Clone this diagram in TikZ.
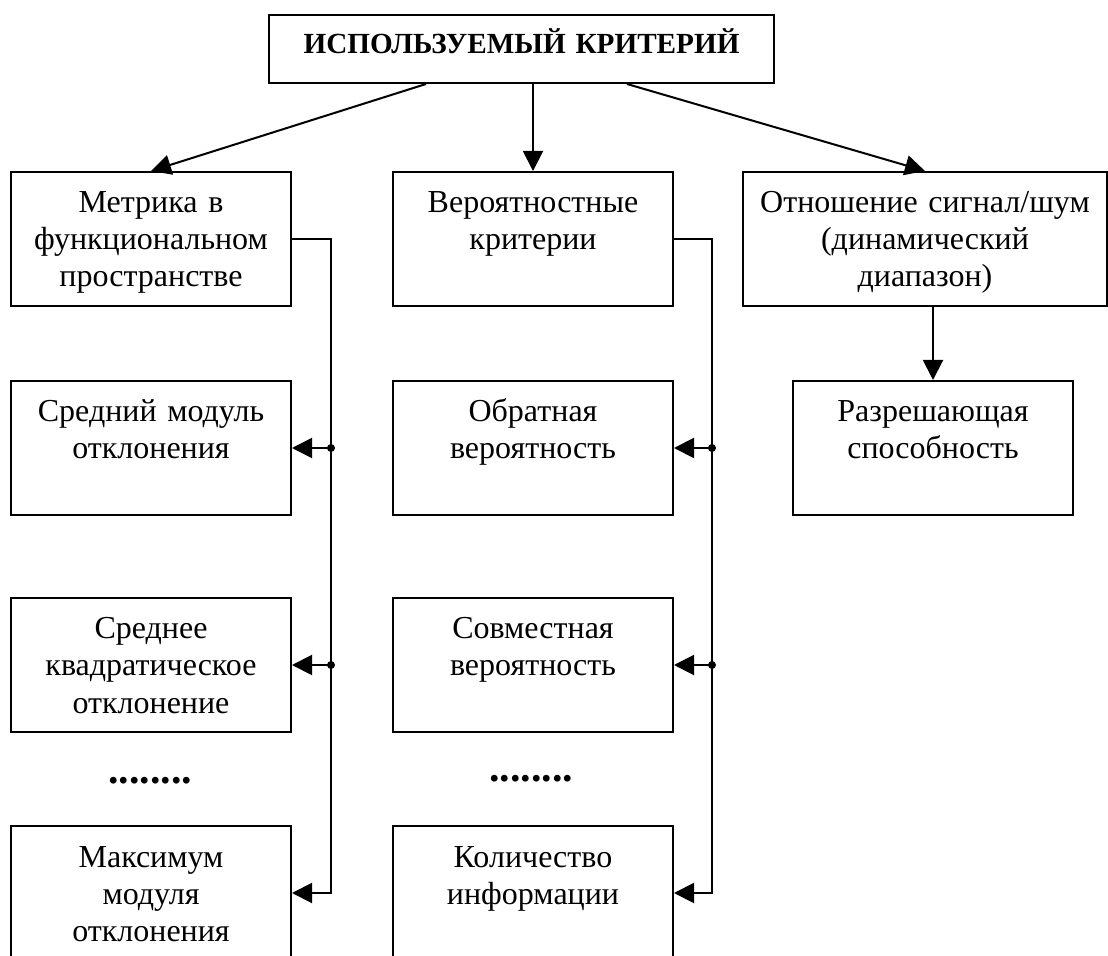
\documentclass[tikz,border=0pt]{standalone}
\usepackage{fontspec}
\setmainfont{Liberation Serif}
\usetikzlibrary{arrows.meta}

\begin{document}
\begin{tikzpicture}[x=0.5pt, y=-0.5pt,
    box/.style={draw, line width=1pt, anchor=north west, inner sep=0pt, align=center,
      text width=140pt, text height=20.5pt, text depth=46.5pt,
      font=\fontsize{16}{18.5}\selectfont},
    arr/.style={line width=1pt, -{Triangle[length=10pt,width=10pt]}},
    dotrow/.style={anchor=base, inner sep=0pt, font=\fontsize{21}{21}\selectfont\bfseries}]
    \useasboundingbox (0,0) rectangle (1108,956);
    \clip (0,0) rectangle (1108,956);
    % top
    \node[box, text width=252.5pt, text height=19.5pt, text depth=14.5pt,
      font=\fontsize{14.6}{18.5}\selectfont\bfseries] (crit) at (268,14) {ИСПОЛЬЗУЕМЫЙ КРИТЕРИЙ};
    % first row
    \node[box] (metr) at (10,171) {Метрика в\\функциональном\\пространстве};
    \node[box] (prob) at (392,171) {Вероятностные\\критерии};
    \node[box, text width=182pt] (ratio) at (742,171) {Отношение сигнал/шум\\(динамический\\диапазон)};
    % left column
    \node[box] (mods) at (10,380) {Средний модуль\\отклонения};
    \node[box] (msq) at (10,597) {Среднее\\квадратическое\\отклонение};
    \node[dotrow] (ldots) at (150,783) {........};
    \node[box] (maxm) at (10,825) {Максимум\\модуля\\отклонения};
    % middle column
    \node[box] (inv) at (392,380) {Обратная\\вероятность};
    \node[box] (joint) at (392,597) {Совместная\\вероятность};
    \node[dotrow] (mdots) at (531,781) {........};
    \node[box] (info) at (392,825) {Количество\\информации};
    % right column
    \node[box] (res) at (792,380) {Разрешающая\\способность};
    % arrows from the top
    \draw[arr] ([xshift=-47.75pt]crit.south) -- (metr.north);
    \draw[arr] (crit.south -| prob.north) -- (prob.north);
    \draw[arr] ([xshift=52.75pt]crit.south) -- (ratio.north);
    \draw[arr] (ratio.south -| res.north) -- (res.north);
    % buses
    \coordinate (lbus) at (331,238);
    \coordinate (mbus) at (712,238);
    \draw[arr] (metr.east) -| (lbus |- maxm.east) -- (maxm.east);
    \draw[arr] (prob.east) -| (mbus |- info.east) -- (info.east);
    \foreach \n in {mods,msq} {
      \draw[arr] (lbus |- \n.east) -- (\n.east);
      \fill (lbus |- \n.east) circle (2pt);
    }
    \foreach \n in {inv,joint} {
      \draw[arr] (mbus |- \n.east) -- (\n.east);
      \fill (mbus |- \n.east) circle (2pt);
    }
\end{tikzpicture}
\end{document}
